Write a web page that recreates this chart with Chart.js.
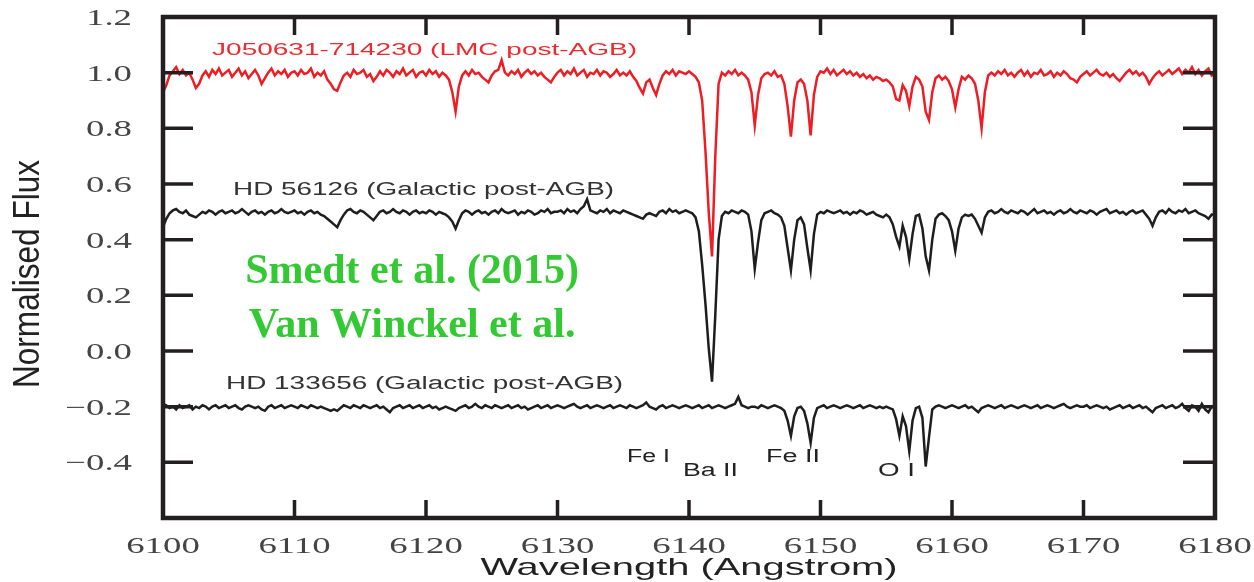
<!DOCTYPE html>
<html>
<head>
<meta charset="utf-8">
<script src="https://cdn.jsdelivr.net/npm/chart.js@4.4.1/dist/chart.umd.min.js"></script>
<style>
  html,body{margin:0;padding:0;background:#fff;}
  #spec{display:block;}
</style>
</head>
<body>
<canvas id="spec" width="1254" height="582"></canvas>
<script>
// spectra sampled on a regular grid: lambda = lambda0 + i*dLambda (Angstrom)
const lambda0 = 6100, dLambda = 0.25;

// J050631-714230 (LMC post-AGB), shifted to continuum 1.0
const fluxLMC = [
  0.93,0.955,0.99,1.005,1.02,0.995,1.01,0.99,1.0,0.975,0.945,0.96,0.99,1.005,0.985,1.01,0.995,1.015,0.99,1.0,      // 6100
  1.01,0.985,1.0,1.015,0.99,1.005,0.98,0.995,1.01,0.99,0.96,0.98,1.0,1.015,0.99,1.005,0.995,1.01,0.985,1.0,        // 6105
  1.005,0.99,1.01,0.995,1.0,1.015,0.985,1.0,0.99,1.005,0.975,0.96,0.94,0.935,0.965,0.99,1.0,0.985,1.01,0.995,      // 6110
  1.0,1.01,0.985,0.995,0.97,0.985,1.005,0.99,1.01,1.0,0.985,1.005,0.995,1.015,0.99,1.0,1.01,0.985,1.0,1.005,       // 6115
  0.99,1.01,0.995,1.005,0.985,1.0,0.99,0.975,0.93,0.86,0.95,0.99,1.005,0.99,1.01,0.995,1.0,0.985,0.975,0.965,      // 6120
  0.99,1.005,1.01,1.045,1.0,0.99,1.005,0.995,1.01,0.985,1.0,1.01,0.995,1.005,0.99,1.0,0.985,0.975,0.965,0.985,     // 6125
  1.0,1.01,0.99,1.005,0.995,1.015,0.99,1.0,1.01,0.985,1.0,0.995,1.01,0.99,1.005,1.0,0.985,0.995,1.01,0.99,         // 6130
  1.0,0.99,1.005,0.985,0.97,0.945,0.925,0.965,0.975,0.945,0.92,0.96,0.99,1.005,0.995,1.01,0.99,1.005,1.0,0.995,    // 6135
  1.005,0.995,0.985,0.965,0.9,0.72,0.5,0.34,0.7,0.96,1.0,0.99,1.005,0.995,1.01,0.99,1.0,0.99,0.975,0.93,           // 6140
  0.81,0.92,0.98,0.995,1.0,0.99,1.005,0.985,0.99,0.96,0.88,0.77,0.9,0.965,0.975,0.96,0.9,0.775,0.92,0.985,         // 6145
  1.005,1.0,1.015,0.995,1.01,0.99,1.0,1.01,0.995,1.005,0.99,1.0,0.985,0.995,0.98,0.99,0.975,0.985,0.98,0.97,       // 6150
  0.975,0.965,0.95,0.905,0.9,0.955,0.935,0.88,0.95,0.985,0.975,0.95,0.86,0.83,0.93,0.98,0.99,0.975,0.985,0.97,     // 6155
  0.94,0.875,0.94,0.985,0.975,0.99,0.98,0.96,0.9,0.8,0.93,0.99,1.0,0.99,1.005,0.995,1.01,0.99,1.0,0.985,           // 6160
  1.0,1.01,0.99,1.005,0.985,1.0,0.995,1.01,0.99,0.995,1.005,0.985,1.0,0.99,1.005,0.995,0.98,0.975,0.965,0.985,     // 6165
  0.995,1.005,0.99,1.0,1.01,0.995,0.99,1.0,0.985,0.995,0.98,0.97,0.985,1.0,1.01,0.995,1.005,0.99,1.0,0.985,        // 6170
  0.96,0.98,0.995,1.005,0.99,1.0,1.01,0.995,1.005,1.015,0.995,1.01,1.0,1.02,0.995,1.01,0.99,1.005,1.015,0.99,      // 6175
  1.0                                                                                                              // 6180
];

// HD 56126 (Galactic post-AGB), continuum 0.5
const fluxHD56126 = [
  0.445,0.475,0.495,0.505,0.51,0.5,0.495,0.505,0.49,0.485,0.48,0.49,0.5,0.495,0.505,0.5,0.49,0.5,0.505,0.495,
  0.5,0.505,0.495,0.5,0.51,0.5,0.49,0.5,0.505,0.495,0.5,0.49,0.5,0.505,0.495,0.5,0.51,0.5,0.495,0.5,
  0.505,0.495,0.5,0.49,0.5,0.505,0.495,0.5,0.49,0.485,0.475,0.465,0.455,0.445,0.47,0.49,0.505,0.51,0.5,0.495,
  0.505,0.5,0.49,0.48,0.47,0.485,0.5,0.505,0.495,0.5,0.51,0.5,0.495,0.505,0.5,0.49,0.5,0.505,0.495,0.5,
  0.495,0.505,0.5,0.49,0.5,0.495,0.49,0.48,0.465,0.44,0.47,0.495,0.505,0.5,0.49,0.5,0.505,0.495,0.5,0.49,
  0.5,0.505,0.495,0.51,0.5,0.495,0.5,0.505,0.49,0.5,0.495,0.505,0.5,0.49,0.495,0.505,0.5,0.51,0.495,0.5,
  0.5,0.505,0.495,0.51,0.5,0.505,0.495,0.51,0.52,0.545,0.505,0.5,0.495,0.505,0.5,0.51,0.495,0.505,0.5,0.495,
  0.505,0.5,0.495,0.49,0.485,0.48,0.475,0.49,0.495,0.49,0.485,0.5,0.505,0.495,0.51,0.5,0.505,0.495,0.5,0.505,
  0.5,0.495,0.48,0.43,0.31,0.17,0.01,-0.11,0.13,0.4,0.485,0.5,0.495,0.505,0.5,0.495,0.505,0.5,0.49,0.43,
  0.295,0.39,0.47,0.495,0.5,0.505,0.495,0.49,0.48,0.45,0.37,0.29,0.4,0.47,0.48,0.455,0.37,0.29,0.42,0.49,
  0.5,0.495,0.505,0.5,0.495,0.5,0.505,0.495,0.5,0.49,0.5,0.495,0.505,0.5,0.49,0.495,0.5,0.49,0.485,0.48,
  0.49,0.48,0.455,0.41,0.375,0.45,0.41,0.33,0.42,0.485,0.49,0.44,0.34,0.29,0.4,0.475,0.49,0.495,0.485,0.47,
  0.43,0.36,0.44,0.48,0.49,0.485,0.49,0.475,0.45,0.425,0.48,0.5,0.505,0.495,0.5,0.51,0.5,0.495,0.505,0.5,
  0.495,0.505,0.5,0.49,0.5,0.51,0.495,0.5,0.505,0.495,0.5,0.49,0.5,0.505,0.495,0.5,0.51,0.5,0.495,0.505,
  0.5,0.495,0.505,0.5,0.49,0.5,0.505,0.51,0.495,0.5,0.505,0.495,0.5,0.49,0.5,0.505,0.495,0.5,0.505,0.49,
  0.475,0.45,0.48,0.5,0.505,0.495,0.51,0.5,0.495,0.505,0.5,0.51,0.495,0.5,0.505,0.495,0.49,0.485,0.475,0.49,
  0.49
];

// HD 133656 (Galactic post-AGB), continuum -0.2
const fluxHD133656 = [
  -0.19,-0.195,-0.205,-0.2,-0.21,-0.195,-0.205,-0.2,-0.195,-0.21,-0.2,-0.205,-0.195,-0.2,-0.21,-0.2,-0.195,-0.205,-0.2,-0.195,
  -0.205,-0.2,-0.195,-0.205,-0.21,-0.2,-0.195,-0.2,-0.205,-0.2,-0.21,-0.215,-0.2,-0.195,-0.205,-0.2,-0.195,-0.205,-0.2,-0.195,
  -0.2,-0.205,-0.195,-0.2,-0.205,-0.195,-0.2,-0.205,-0.2,-0.205,-0.21,-0.215,-0.21,-0.215,-0.205,-0.195,-0.2,-0.205,-0.195,-0.2,
  -0.205,-0.195,-0.2,-0.205,-0.2,-0.195,-0.205,-0.2,-0.21,-0.22,-0.205,-0.2,-0.195,-0.205,-0.2,-0.195,-0.205,-0.2,-0.195,-0.205,
  -0.2,-0.195,-0.205,-0.2,-0.21,-0.205,-0.2,-0.205,-0.21,-0.215,-0.205,-0.2,-0.195,-0.205,-0.2,-0.19,-0.2,-0.205,-0.195,-0.2,
  -0.205,-0.195,-0.2,-0.205,-0.2,-0.195,-0.205,-0.2,-0.195,-0.205,-0.2,-0.21,-0.205,-0.2,-0.195,-0.205,-0.2,-0.195,-0.205,-0.2,
  -0.195,-0.2,-0.205,-0.2,-0.195,-0.19,-0.2,-0.205,-0.2,-0.195,-0.205,-0.2,-0.195,-0.2,-0.205,-0.2,-0.195,-0.205,-0.2,-0.195,
  -0.2,-0.205,-0.195,-0.2,-0.205,-0.2,-0.195,-0.185,-0.2,-0.205,-0.21,-0.2,-0.195,-0.205,-0.2,-0.195,-0.2,-0.205,-0.2,-0.195,
  -0.2,-0.205,-0.2,-0.195,-0.205,-0.2,-0.195,-0.205,-0.2,-0.195,-0.2,-0.205,-0.2,-0.195,-0.19,-0.165,-0.195,-0.2,-0.205,-0.2,
  -0.2,-0.205,-0.195,-0.2,-0.205,-0.2,-0.195,-0.2,-0.205,-0.215,-0.25,-0.305,-0.235,-0.205,-0.2,-0.215,-0.26,-0.33,-0.24,-0.205,
  -0.2,-0.195,-0.205,-0.2,-0.195,-0.2,-0.205,-0.2,-0.195,-0.2,-0.205,-0.2,-0.195,-0.205,-0.2,-0.195,-0.2,-0.205,-0.2,-0.205,
  -0.2,-0.205,-0.21,-0.245,-0.305,-0.235,-0.27,-0.36,-0.25,-0.205,-0.2,-0.24,-0.415,-0.31,-0.21,-0.2,-0.195,-0.2,-0.205,-0.2,
  -0.195,-0.2,-0.205,-0.2,-0.195,-0.205,-0.2,-0.21,-0.22,-0.205,-0.2,-0.195,-0.2,-0.205,-0.2,-0.195,-0.205,-0.2,-0.195,-0.2,
  -0.205,-0.2,-0.195,-0.2,-0.205,-0.2,-0.195,-0.205,-0.2,-0.195,-0.2,-0.205,-0.2,-0.195,-0.19,-0.2,-0.205,-0.2,-0.195,-0.2,
  -0.2,-0.195,-0.205,-0.2,-0.195,-0.2,-0.205,-0.2,-0.21,-0.205,-0.2,-0.195,-0.205,-0.2,-0.195,-0.205,-0.2,-0.195,-0.205,-0.2,
  -0.21,-0.22,-0.205,-0.2,-0.195,-0.205,-0.2,-0.195,-0.205,-0.2,-0.19,-0.205,-0.215,-0.195,-0.2,-0.215,-0.19,-0.21,-0.22,-0.2,
  -0.195
];

const xTickVals = [6100, 6110, 6120, 6130, 6140, 6150, 6160, 6170, 6180];
const yTickVals = [-0.4, -0.2, 0.0, 0.2, 0.4, 0.6, 0.8, 1.0, 1.2];

// text labels anchored at (wavelength, flux)
const sans = '"Liberation Sans", Arial, sans-serif';
const serif = '"Liberation Serif", "Times New Roman", serif';
const notes = [
  { text: 'J050631-714230 (LMC post-AGB)', at: [6119.89, 1.081], color: '#ec2a30', font: '17px ' + sans, width: 425 },
  { text: 'HD 56126 (Galactic post-AGB)',  at: [6119.81, 0.578], color: '#333', font: '18px ' + sans, width: 381 },
  { text: 'HD 133656 (Galactic post-AGB)', at: [6119.89, -0.119], color: '#333', font: '18px ' + sans, width: 397 },
  { text: 'Fe I',  at: [6136.92, -0.381], color: '#222', font: '18px ' + sans, width: 43 },
  { text: 'Ba II', at: [6141.63, -0.431], color: '#222', font: '18px ' + sans, width: 55 },
  { text: 'Fe II', at: [6147.91, -0.381], color: '#222', font: '18px ' + sans, width: 54 },
  { text: 'O I',   at: [6155.78, -0.431], color: '#222', font: '18px ' + sans, width: 37 },
  { text: 'Smedt et al. (2015)', at: [6118.94, 0.284], color: '#33c933', font: 'bold 42px ' + serif },
  { text: 'Van Winckel et al.',  at: [6118.94, 0.090], color: '#33c933', font: 'bold 42px ' + serif }
];

const wave = fluxLMC.map((_, i) => lambda0 + i * dLambda);
const pts = f => f.map((v, i) => ({ x: wave[i], y: v }));

function drawText(ctx, t, px, py, o) {
  ctx.save();
  ctx.font = o.font;
  ctx.fillStyle = o.color;
  ctx.textBaseline = 'middle';
  ctx.textAlign = o.align || 'center';
  ctx.translate(px, py);
  if (o.rotate) ctx.rotate(o.rotate);
  let sx = o.sx || 1;
  if (o.width) sx = o.width / ctx.measureText(t).width;
  ctx.scale(sx, o.sy || 1);
  ctx.fillText(t, 0, 0);
  ctx.restore();
}

const fmtY = v => Math.abs(v) < 1e-9 ? '0.0' : v.toFixed(1).replace('-', '\u2212');

const frame = {
  id: 'frame',
  afterDatasetsDraw(chart) {
    const { ctx, chartArea: a, scales: { x, y } } = chart;
    ctx.save();
    ctx.strokeStyle = '#231f20';
    ctx.lineWidth = 3.5;
    ctx.beginPath();
    xTickVals.slice(1, -1).forEach(v => {
      const px = x.getPixelForValue(v);
      ctx.moveTo(px, a.top); ctx.lineTo(px, a.top + 18);
      ctx.moveTo(px, a.bottom); ctx.lineTo(px, a.bottom - 18);
    });
    yTickVals.slice(0, -1).forEach(v => {
      const py = y.getPixelForValue(v);
      ctx.moveTo(a.left, py); ctx.lineTo(a.left + 30, py);
      ctx.moveTo(a.right, py); ctx.lineTo(a.right - 32, py);
    });
    ctx.stroke();
    ctx.lineWidth = 4.5;
    ctx.strokeRect(a.left, a.top, a.right - a.left, a.bottom - a.top);
    ctx.restore();

    const tickFont = { font: '23px ' + serif, color: '#444', sx: 1.6 };
    xTickVals.forEach(v => drawText(ctx, String(v), x.getPixelForValue(v), a.bottom + 29, tickFont));
    yTickVals.forEach(v => drawText(ctx, fmtY(v), a.left - 31, y.getPixelForValue(v) + 2, { ...tickFont, align: 'right' }));

    drawText(ctx, 'Wavelength (Angstrom)', (a.left + a.right) / 2, 568, { font: '24px ' + sans, color: '#222', width: 417 });
    drawText(ctx, 'Normalised Flux', 29, 274, { font: '28px ' + sans, color: '#222', width: 228, sy: 1.3, rotate: -Math.PI / 2 });

    notes.forEach(n => drawText(ctx, n.text, x.getPixelForValue(n.at[0]), y.getPixelForValue(n.at[1]), n));
  }
};

const line = (label, f, color) => ({
  label, data: pts(f), borderColor: color, borderWidth: 2.5,
  pointRadius: 0, tension: 0, fill: false
});

new Chart(document.getElementById('spec').getContext('2d'), {
  type: 'line',
  data: {
    datasets: [
      line('HD 133656', fluxHD133656, '#1e1e1e'),
      line('HD 56126', fluxHD56126, '#1e1e1e'),
      line('J050631-714230', fluxLMC, '#ee1d23')
    ]
  },
  options: {
    responsive: false,
    animation: false,
    layout: { padding: { top: 17, right: 39, left: 0, bottom: 0 } },
    plugins: { legend: { display: false }, tooltip: { enabled: false } },
    scales: {
      x: {
        type: 'linear', min: 6100, max: 6180,
        afterBuildTicks: s => { s.ticks = xTickVals.map(v => ({ value: v })); },
        ticks: { display: false },
        grid: { display: false, drawTicks: false },
        border: { display: false },
        afterFit: s => { s.height = 64; }
      },
      y: {
        min: -0.6, max: 1.2,
        afterBuildTicks: s => { s.ticks = yTickVals.map(v => ({ value: v })); },
        ticks: { display: false },
        grid: { display: false, drawTicks: false },
        border: { display: false },
        afterFit: s => { s.width = 163; }
      }
    }
  },
  plugins: [frame]
});
</script>
</body>
</html>
